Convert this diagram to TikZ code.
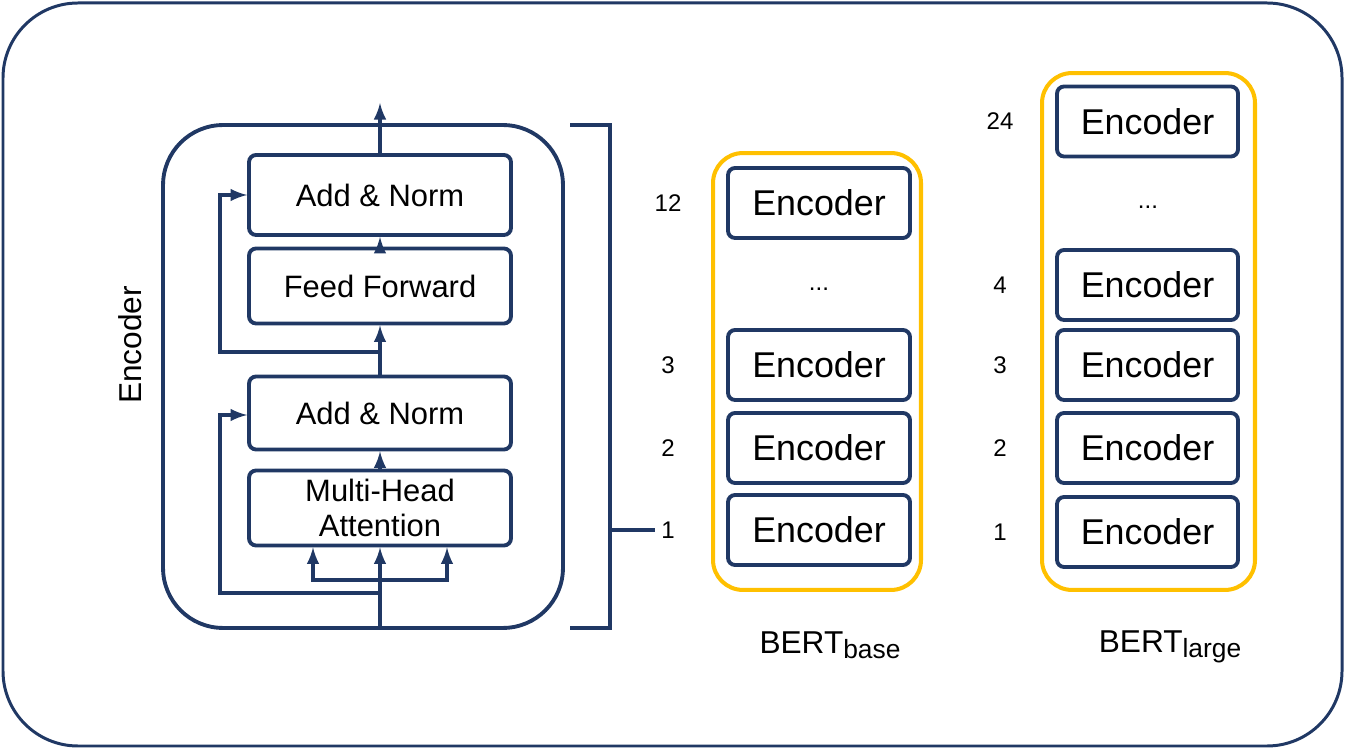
\documentclass[tikz,border=0pt]{standalone}
\usepackage{fontspec}
\setmainfont{Liberation Sans}
\usetikzlibrary{positioning}
\definecolor{navy}{HTML}{203864}
\definecolor{gold}{HTML}{FFC000}

\begin{document}
\begin{tikzpicture}[x=0.02cm,y=-0.02cm,
        line/.style={draw=navy,line width=2.2pt},
        flow/.style={line,-latex},
        lbox/.style={line,rounded corners=4pt,minimum width=5.24cm,align=center,
            font=\fontsize{17.6}{21}\selectfont},
        ebox/.style={line,rounded corners=4pt,minimum height=1.4cm,
            font=\fontsize{20.4}{24}\selectfont},
        stack/.style={draw=gold,line width=2.3pt,rounded corners=0.6cm},
        num/.style={font=\fontsize{13.7}{16}\selectfont},
        bert/.style={font=\fontsize{18}{21}\selectfont}]
    \useasboundingbox (0,0) rectangle (1345,749);
    \draw[line,line width=1.7pt,rounded corners=1.5cm] (3,3) rectangle (1342,746);

    % one encoder layer
    \node[line,rounded corners=1.2cm,minimum width=8cm,minimum height=10.06cm] (enc) at (363,376.5) {};
    \node[rotate=90,font=\fontsize{18}{21}\selectfont] (enclbl) at (130,345) {Encoder};
    \node[lbox,minimum height=1.6cm] (an2) at (380,195) {Add \& Norm};
    \node[lbox,minimum height=1.5cm] (ff) at (380,286) {Feed Forward};
    \node[lbox,minimum height=1.46cm] (an1) at (380,413) {Add \& Norm};
    \node[lbox,minimum height=1.5cm] (mha) at (380,508) {Multi-Head\\[-1pt]Attention};

    \coordinate (br) at (380,580);
    \coordinate (kin) at (313,580);
    \coordinate (vin) at (447,580);
    \coordinate (out) at (380,103);
    \draw[flow] (mha.south |- enc.south) -- (mha.south);
    \draw[flow] (br) -| (kin |- mha.south);
    \draw[flow] (br) -| (vin |- mha.south);
    \draw[flow] (mha.north) -- (an1.south);
    \draw[flow] (an1.north) -- (ff.south);
    \draw[flow] (ff.north) -- (an2.south);
    \draw[flow] (an2.north) -- (out);

    % residual paths
    \coordinate (r1) at (380,593);
    \coordinate (r1t) at (220,415);
    \coordinate (r2) at (380,352);
    \coordinate (r2t) at (220,195);
    \draw[flow] (r1) -| (r1t) -- (r1t -| an1.west);
    \draw[flow] (r2) -| (r2t) -- (r2t -| an2.west);

    % bracket
    \draw[line] (570,125) -| (610,628) -- (570,628);

    % base stack
    \node[stack,minimum width=4.16cm,minimum height=8.74cm] (sbase) at (817,371.5) {};
    \foreach \n/\y/\l in {b12/203/12,b3/365/3,b2/448/2,b1/530/1} {
        \node[ebox,minimum width=3.64cm] (\n) at (819,\y) {Encoder};
        \node[num] (l\n) at (668,\y) {\l};
    }
    \node[num] (bdots) at (819,289) {...};
    \draw[line] (610,530) -- (lb1.west);
    \node[bert] (tbase) at (830,645) {BERT\raisebox{-3pt}{\fontsize{15}{15}\selectfont base}};

    % large stack
    \node[stack,minimum width=4.26cm,minimum height=10.34cm] (slarge) at (1148.5,331.5) {};
    \foreach \n/\y/\l in {g24/121.5/24,g4/285/4,g3/365/3,g2/448/2,g1/532/1} {
        \node[ebox,minimum width=3.62cm] (\n) at (1147.5,\y) {Encoder};
        \node[num] (l\n) at (1000,\y) {\l};
    }
    \node[num] (gdots) at (1148,207) {...};
    \node[bert] (tlarge) at (1170,647) {BERT\raisebox{-3pt}{\fontsize{15}{15}\selectfont large}};
\end{tikzpicture}
\end{document}
